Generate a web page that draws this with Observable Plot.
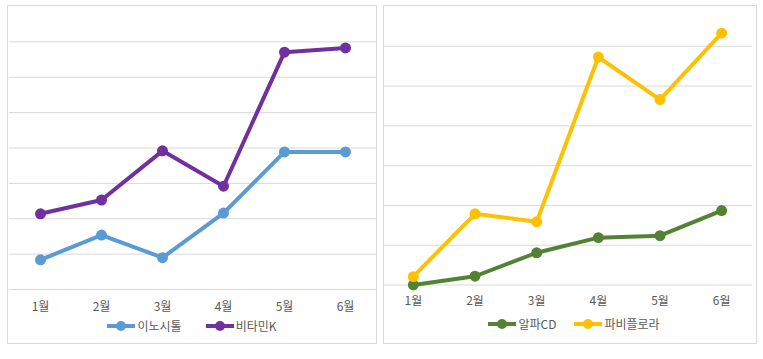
<!DOCTYPE html>
<html><head><meta charset="utf-8">
<script src="https://cdn.jsdelivr.net/npm/d3@7"></script>
<script src="https://cdn.jsdelivr.net/npm/@observablehq/plot@0.6"></script>
<style>
body{margin:0;background:#fff;font-family:"Noto Sans CJK KR","Noto Sans",sans-serif;}
.panel{position:absolute;box-sizing:border-box;border:1px solid #d9d9d9;background:#fff;overflow:hidden;}
.panel svg{position:absolute;left:0;top:0;overflow:visible;}
.legend{position:absolute;left:0;right:0;display:flex;justify-content:center;font-size:12px;color:#595959;line-height:14px;}
.item{display:flex;align-items:center;}
.sw{position:relative;width:28px;height:10px;margin-right:2px;}
.sw i{position:absolute;left:0;right:0;top:3px;height:4px;}
.sw b{position:absolute;left:9px;top:0;width:10px;height:10px;border-radius:50%;}
</style></head>
<body>
<div id="p1" class="panel" style="left:7px;top:5px;width:370px;height:339px"></div>
<div id="p2" class="panel" style="left:383px;top:5px;width:374px;height:339px"></div>
<script>
const months = ["1월","2월","3월","4월","5월","6월"];
const inositol = [0.84, 1.54, 0.9, 2.16, 3.89, 3.89];
const vitaminK = [2.14, 2.53, 3.92, 2.92, 6.71, 6.83];
const alphaCD = [0.0, 0.22, 0.81, 1.19, 1.24, 1.87];
const pabiflora = [0.21, 1.79, 1.59, 5.73, 4.66, 6.33];
const leftTicks = [0,1,2,3,4,5,6,7];
const rightTicks = [0,1,2,3,4,5,6];

function rows(names, arrays){
  const out=[];
  names.forEach((n,k)=>arrays[k].forEach((v,i)=>out.push({m:months[i],v,s:n})));
  return out;
}

function panel(el, opts){
  const data = rows(opts.names, opts.values);
  const svg = Plot.plot({
    width: opts.width, height: opts.height,
    marginLeft: opts.ml, marginRight: opts.mr, marginTop: 0, marginBottom: opts.mb,
    style:{fontFamily:'"Noto Sans CJK KR","Noto Sans",sans-serif', fontSize:"12px", color:"#595959", background:"transparent"},
    x:{type:"point", domain: months, padding:0.5, label:null},
    y:{domain: opts.ydomain, axis:null},
    color:{domain: opts.names, range: opts.colors},
    marks:[
      Plot.ruleY(opts.ticks,{stroke:"#d9d9d9",strokeWidth:1}),
      Plot.axisX({tickSize:0, tickPadding: opts.tp, fontSize:12, fill:"#595959"}),
      Plot.line(data,{x:"m",y:"v",z:"s",stroke:"s",strokeWidth:4,strokeLinejoin:"round",strokeLinecap:"round"}),
      Plot.dot(data,{x:"m",y:"v",fill:"s",r:5.5,stroke:null})
    ]
  });
  svg.style.left = opts.shift + "px";
  el.appendChild(svg);
  const lg=document.createElement("div");
  lg.className="legend"; lg.style.top=opts.legendTop+"px"; lg.style.gap=opts.gap+"px";
  lg.style.paddingLeft = opts.lpad + "px";
  opts.names.forEach((n,k)=>{
    const it=document.createElement("div"); it.className="item";
    it.innerHTML=`<span class="sw"><i style="background:${opts.colors[k]}"></i><b style="background:${opts.colors[k]}"></b></span><span>${n}</span>`;
    lg.appendChild(it);
  });
  el.appendChild(lg);
}

panel(document.getElementById("p1"),{
  names:["이노시톨","비타민K"], values:[inositol, vitaminK], colors:["#5B9BD5","#7030A0"],
  width:368, height:337, ml:1, mr:0, mb:54, ydomain:[0,8], ticks:leftTicks, tp:13, legendTop:313, shift:0, gap:24, lpad:0
});
panel(document.getElementById("p2"),{
  names:["알파CD","파비플로라"], values:[alphaCD, pabiflora], colors:["#548235","#FFC000"],
  width:374, height:337, ml:0, mr:2, mb:57, ydomain:[0,7], ticks:rightTicks, tp:12, legendTop:311, shift:-2, gap:18, lpad:8
});
</script>
</body></html>
